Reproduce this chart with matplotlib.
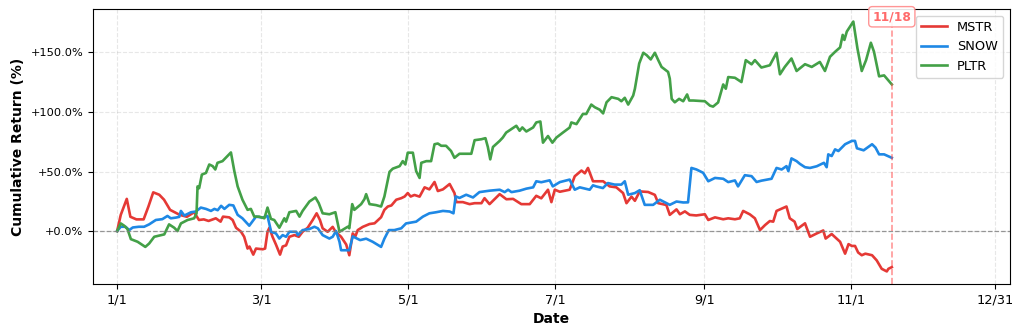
import numpy as np
import matplotlib
matplotlib.use('Agg')
from matplotlib import pyplot as plt
import matplotlib.dates as mdates
from matplotlib.ticker import FuncFormatter

# day offsets from 2024-01-01 and cumulative return (%)
mstr_days = [0, 1.5, 4, 5.5, 8, 11, 13, 15, 17.5, 19.5, 22, 26, 29, 32, 34, 36, 38, 41, 43, 44,
             46.6, 48, 49.4, 51.5, 52.8, 54.2, 55, 56.6, 57.7, 60.5, 61.5, 62.5, 63.3, 64.6, 66, 67.7,
             68.8, 70.2, 71.6, 73.7, 75.5, 77.1, 79.2, 81.3, 82.9, 84.3, 85.4, 87.5, 89.6, 90.8, 93.1,
             95.2, 96.5, 97.9, 99, 100, 102.1, 104.9, 107, 109.7, 111.1, 112.5, 114, 116, 118.1, 119.5,
             120.8, 122, 123.6, 125.7, 127.8, 129.8, 131.9, 133.3, 135.4, 138.2, 140.2, 141, 143.7,
             146.5, 148.6, 151.4, 152.7, 154.8, 159, 161.8, 164.6, 168, 171.5, 174.2, 176.3, 179.1,
             180.5, 181.9, 184, 188.1, 190.2, 193, 194.4, 195.7, 197.8, 202, 204.7, 207.5, 210.3,
             211.7, 213.8, 215.2, 217.2, 220.7, 223.5, 224.9, 228.3, 229.7, 232.5, 233.9, 236, 238,
             240.7, 244.3, 245.7, 248.5, 251.9, 254, 256.8, 258.8, 260.2, 263, 265.1, 267.2, 269.3,
             271.3, 272.7, 274.1, 278.2, 279.6, 281.6, 282.7, 285.9, 288, 290.8, 293.5, 294.5, 297,
             300.5, 302.6, 304, 305.4, 306.7, 308, 309.5, 311, 313.8, 315.7, 317.8, 319.9, 320.6, 322]
mstr_ret = [0, 13.6, 27, 12, 9.8, 9.8, 20.6, 32.5, 30.5, 26.3, 17.8, 13.6, 12, 15.8, 9.3, 9.8, 8.5,
            10.7, 7.9, 12.1, 11.5, 9.3, 2.8, -0.6, -4.8, -14.7, -13, -19.8, -14.7, -15.3, -14.7, -0.6,
            2.8, -4.8, -11.3, -19.8, -13, -12, -4.8, -3.4, -4.8, -0.6, 2.8, 9.3, 14.9, 9.3, 2.3, -0.6,
            3.5, -0.6, -4.8, -11.3, -20.3, -2, -4.5, 0.8, 3.5, 5.9, 6.5, 11.6, 17.8, 20.6, 21.5, 26.3,
            27.6, 29, 31.9, 29, 30.3, 28.9, 36.7, 35, 41.2, 33.6, 35, 39.5, 31.9, 24.3, 24.3, 22.6,
            23.4, 23.4, 27.6, 22.6, 31, 26.7, 27, 22.6, 22.6, 29.6, 27.5, 34.7, 24.3, 34.7, 33, 34.7,
            46, 50.8, 48.5, 53, 41.8, 41.8, 37.5, 36.7, 31.9, 23.4, 28.9, 25.4, 33.3, 32.8, 30.4,
            23.4, 21.9, 13.6, 18.2, 14.1, 16.5, 13.6, 13.1, 14.1, 9.3, 11.5, 9.9, 10.7, 9.9, 10.7,
            16.9, 14, 10.7, 0.8, 5, 8.4, 7.9, 16.9, 20.6, 10.7, 7.9, 1.7, 6.5, -4.8, -2, 0.5, -6.3,
            -2.5, -9, -19, -11, -12.5, -12.5, -18, -20.3, -19, -20.3, -24.6, -31.7, -33.9, -31.7, -30.3]

snow_days = [0, 1.5, 3.5, 5, 6.5, 9, 11.2, 13.3, 16.1, 18.8, 20.9, 22.3, 24.4, 25.8, 26.5, 27.9,
             30.7, 32.7, 34.8, 36.9, 39, 40.4, 41.8, 43.2, 44.6, 46.6, 48.3, 50.1, 52.1, 54.9, 57.7,
             60.5, 62.5, 64, 66, 67.4, 68.8, 70.2, 71.6, 74.4, 75.1, 77.1, 79.9, 82, 83.4, 85.4, 88.2,
             89.6, 91, 92.4, 93.1, 95.2, 96.5, 97.9, 101, 103.5, 106.2, 109.7, 111.1, 112.9, 115.2,
             118.1, 120.1, 124.3, 127.1, 129.8, 132.6, 135.4, 138.2, 139.8, 140.7, 142.3, 145.1,
             147.9, 150.6, 154.8, 159, 161.1, 162.5, 163.9, 167.3, 170.1, 172.9, 174.2, 176.3, 179.8,
             181.1, 184, 188.1, 190.2, 192.3, 196.4, 197.8, 199.1, 201.9, 204, 206.8, 209.6, 211,
             212.4, 215.2, 217.2, 219.3, 222.8, 225.6, 229.7, 232.5, 235.3, 237.3, 238.7, 240.8,
             243.6, 245.7, 248.5, 251.9, 254, 256.8, 258.1, 260.9, 263.7, 265.8, 267.8, 272, 274.1,
             276.2, 278.2, 279, 280.3, 282.4, 283.8, 285.9, 288, 290.8, 293.8, 294.9, 295.6, 297,
             298.4, 299.8, 302.6, 305.4, 306.7, 307.5, 310.3, 313.8, 315.2, 316.7, 318.8, 322]
snow_ret = [0, 3.6, 3.6, 0.8, 3, 3.6, 3.6, 5.6, 9.3, 10, 12.7, 10.7, 11.3, 11.9, 16.9, 13, 15.8,
            16.4, 19.7, 18.6, 16.9, 18.6, 17.5, 21.2, 18.6, 22, 21.5, 13.6, 10.7, 4.5, 12.1, 11.3,
            12.7, -0.6, -2, -6.3, -3.4, -4.8, -0.6, -0.6, -3.4, 0.8, 1.7, 3.6, 2.3, -3.4, -6.3,
            -4.8, 0, -9, -16.1, -16.1, -16.1, -4.5, -7.6, -6.4, -9, -13.3, -6.4, 0.8, 0.8, 2.3, 6.4,
            7.9, 12.1, 14.9, 15.8, 16.9, 16.4, 14.9, 29.1, 27.8, 30.5, 28.2, 32.7, 33.9, 34.7, 32.7,
            34.7, 32.7, 33.9, 35.6, 36.7, 41.8, 41, 42.6, 37.5, 41.1, 43.2, 34.7, 36.7, 34.7, 38.4,
            37.5, 36.1, 40.3, 39, 39, 41.8, 30.5, 31.9, 34.3, 22, 22, 26.3, 22, 24.8, 24, 24.1, 53,
            51.7, 48.9, 41.8, 44.6, 43.9, 41.1, 42.5, 37.5, 46.9, 46.1, 41.2, 42.3, 43.9, 53, 51.7,
            54.5, 50.3, 61, 58.7, 56.4, 53.6, 53, 54.4, 57.3, 53.6, 64.4, 63, 68.6, 67.2, 72.9,
            75.7, 75.7, 69.5, 67.8, 72.9, 70.1, 64.4, 64.4, 61.5]

pltr_days = [0, 1.5, 2.9, 4.3, 5.7, 8.5, 11.7, 13.3, 15.4, 18.2, 19.6, 21.6, 23.7, 25.1, 26.5, 29.3,
             32, 33, 33.4, 34.1, 35.2, 36.9, 38.3, 39.7, 40.8, 41.7, 43.8, 47.3, 48.7, 50.1, 52.1,
             54.2, 55.6, 57, 59, 61.2, 62.5, 63.9, 65.3, 67.4, 69.5, 70.2, 71.6, 74.4, 75.8, 77.1,
             79.9, 82.4, 83.8, 85.4, 88.2, 90.7, 92.4, 95.9, 96.5, 97.7, 98.6, 101.4, 102.8, 103.5,
             104.9, 107.6, 109.7, 111.1, 113.2, 114.6, 117.4, 118.7, 119.8, 120.8, 122.9, 124.3,
             125.7, 126.4, 128.5, 130.5, 131.9, 133.3, 134.7, 136.7, 138.8, 140.2, 142.3, 147.2,
             148.6, 151.4, 153.1, 154.1, 155.1, 156.2, 159, 160.3, 161.7, 163.8, 165.9, 167.3, 168.4,
             170.1, 172.9, 174.2, 175.9, 177, 179.1, 180.9, 182.6, 185.3, 188.1, 188.8, 190.9,
             193.6, 195, 197.1, 198.5, 200.6, 202, 203.4, 205.5, 208.3, 209.6, 211, 212.4, 214.5,
             215.2, 217, 218.7, 220.1, 221.8, 223.5, 224.9, 226.3, 229, 229.7, 230.5, 231.8, 233.6,
             235.3, 236.9, 237.8, 239.5, 244.3, 246.4, 247.7, 249.8, 251.9, 253, 254, 256.8, 259.5,
             261.3, 263.7, 265.1, 267.8, 271.3, 274.1, 275.5, 277.5, 280.3, 282.4, 285.9, 288.7,
             292.1, 294.2, 296.3, 298.4, 300.5, 301.6, 302.3, 303.3, 306, 307.7, 309.5, 311.3,
             313.3, 314.6, 316.7, 318.8, 319.9, 322]
pltr_ret = [0, 6.4, 4.5, 1.7, -6.8, -9, -13.3, -10.5, -4.8, -3.4, -2.8, 5.6, 2.8, 0, 6.4, 9.3,
            10.7, 14.9, 37.5, 36, 47.4, 48.8, 55.9, 54.5, 51.7, 57.3, 58.7, 66, 50.3, 37.5, 26.3,
            17.8, 18.6, 12.1, 12.1, 10.7, 19.7, 10.2, 9.3, 2.8, 10.7, 7.9, 15.8, 16.9, 12.1, 16.9,
            24.8, 28.2, 23.4, 14.9, 14.1, 15.8, -0.6, 3.7, 2.3, 22.6, 17.8, 22.6, 26.8, 31, 22.6,
            21.8, 20.6, 29, 49.7, 52.4, 54.5, 58.7, 55.9, 65.8, 65.8, 50.3, 44.6, 57.3, 58.7, 58.7,
            72.9, 73.5, 71.6, 71.6, 67.2, 61.5, 64.9, 64.9, 76.3, 77.1, 78, 70.6, 60.2, 70.6, 75.7,
            78.5, 82.7, 85.5, 88.4, 84.2, 87, 83.6, 87, 91.2, 92, 74.2, 79.8, 74.2, 78.5, 82.7,
            86.9, 91.2, 89.8, 98.3, 98.3, 106.2, 104, 101.9, 98.8, 108.1, 112.4, 111, 109, 111.9,
            106.2, 113.8, 119.5, 140.7, 149.7, 147.7, 144.1, 149.7, 143.5, 137.8, 133.6, 128, 111,
            108.1, 111, 109, 114.7, 109.6, 109.6, 109, 105.3, 104.5, 108, 123.1, 119.5, 129.3,
            128.7, 125.1, 143.5, 140, 143.5, 137.3, 139.2, 149.7, 131.6, 137.8, 144.9, 134.4,
            140.1, 137.8, 142, 134.4, 146.3, 150.5, 154.2, 164.7, 160.5, 167.5, 175.9, 153.4,
            134.4, 143.5, 158.1, 150.6, 129.9, 130.7, 128, 123.1]

tickers = ['MSTR', 'SNOW', 'PLTR']
colors = ['#E53935', '#1E88E5', '#43A047']
start = np.datetime64('2024-01-01')
marker_date = np.datetime64('2024-11-18')


def to_dates(days):
    return start + (np.array(days) * 24).round().astype('timedelta64[h]')


fig, ax = plt.subplots(figsize=(10.23, 3.36), dpi=100)
fig.subplots_adjust(left=0.091, right=0.987, top=0.973, bottom=0.155)

for name, days, ret, c in zip(tickers, [mstr_days, snow_days, pltr_days],
                              [mstr_ret, snow_ret, pltr_ret], colors):
    ax.plot(to_dates(days), ret, color=c, linewidth=1.9, label=name)

ax.axhline(0, color='gray', linestyle='--', linewidth=0.9, alpha=0.8)
ax.axvline(marker_date, color='#FF5252', linestyle='--', linewidth=1.2, alpha=0.6)
ax.text(marker_date, 0.972, '11/18', transform=ax.get_xaxis_transform(),
        ha='center', va='center', fontsize=8.8, fontweight='bold', color='#FF6B6B',
        bbox=dict(boxstyle='round,pad=0.3', facecolor='white', edgecolor='#FF8A8A', alpha=0.9))

ax.set_xlim(np.datetime64('2023-12-22'), np.datetime64('2025-01-06'))
ticks = np.array(['2024-01-01', '2024-03-01', '2024-05-01', '2024-07-01', '2024-09-01',
                  '2024-11-01', '2024-12-31'], dtype='datetime64[D]')
ax.set_xticks(ticks)
ax.set_xticklabels(['1/1', '3/1', '5/1', '7/1', '9/1', '11/1', '12/31'], fontsize=9.3)
ax.yaxis.set_major_formatter(FuncFormatter(lambda v, p: f'{v:+.1f}%'))
ax.tick_params(axis='y', labelsize=8.2)

ax.grid(True, linestyle='--', alpha=0.3)
ax.set_xlabel('Date', fontsize=10, fontweight='bold')
ax.set_ylabel('Cumulative Return (%)', fontsize=10, fontweight='bold')
ax.legend(loc='upper right', fontsize=9.3)

plt.savefig('out.png', dpi=100)
